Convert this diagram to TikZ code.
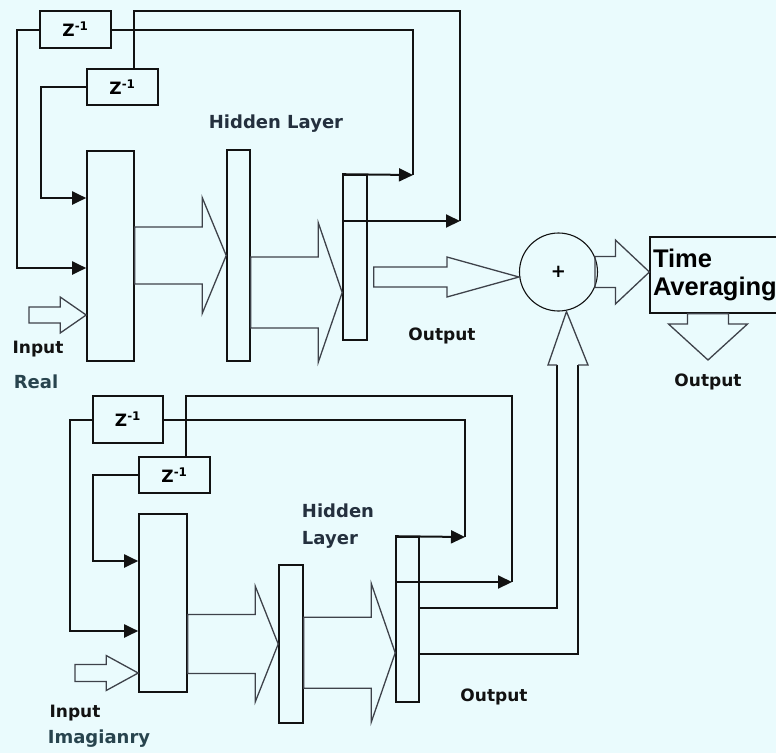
\documentclass[tikz,border=0pt]{standalone}
\usepackage{fontspec}
\setmainfont{DejaVu Sans}
\newfontfamily\arialfont{Liberation Sans}
\usetikzlibrary{arrows.meta,calc}
\definecolor{NNbg}{RGB}{234,251,253}
\definecolor{NNink}{RGB}{18,18,18}
\definecolor{NNslate}{RGB}{36,48,62}
\definecolor{NNteal}{RGB}{40,68,78}
\definecolor{NNgray}{RGB}{62,66,74}
\tikzset{
  blk/.style={draw=NNink,line width=1.6pt,inner sep=0pt},
  delay/.style={blk,font=\fontsize{17}{17}\selectfont\bfseries},
  sumnode/.style={circle,draw=NNink,line width=1.1pt,minimum size=78pt,inner sep=0pt,
                  font=\fontsize{18}{18}\selectfont\bfseries},
  fb/.style={draw=NNink,line width=2pt},
  fbarr/.style={fb,-{Triangle[length=14pt,width=13pt]}},
  fat/.style={draw=NNgray,line width=1.3pt,line join=miter},
  lbl/.style={font=\fontsize{17}{20}\selectfont\bfseries,text=NNink,inner sep=0pt},
  sublbl/.style={font=\fontsize{18}{20}\selectfont\bfseries,text=NNteal,inner sep=0pt},
  hlbl/.style={font=\fontsize{18}{27}\selectfont\bfseries,text=NNslate,inner sep=0pt,align=left},
}
\newcommand{\fatarrow}[5]{%
  \draw[fat] let \p1=#1, \p2=#2, \n1={veclen(\x2-\x1,\y2-\y1)},
    \n2={atan2(\y2-\y1,\x2-\x1)} in [shift={(\p1)},rotate=\n2]
    (0pt,#3pt) -- ({\n1-#5pt},#3pt) -- ({\n1-#5pt},#4pt) -- (\n1,0pt)
    -- ({\n1-#5pt},-#4pt) -- ({\n1-#5pt},-#3pt) -- (0pt,-#3pt) -- cycle;
}

\begin{document}
\begin{tikzpicture}[x=1pt,y=-1pt]
  \fill[NNbg] (0,0) rectangle (776,753);
  \useasboundingbox (0,0) rectangle (776,753);

  \node[delay,minimum width=71pt,minimum height=37pt] (z1) at (75.5,29.5) {Z\textsuperscript{-1}};
  \node[delay,minimum width=71pt,minimum height=36pt] (z2) at (122.5,87) {Z\textsuperscript{-1}};
  \node[blk,minimum width=47pt,minimum height=210pt] (in1) at (110.5,256) {};
  \node[blk,minimum width=23pt,minimum height=211pt] (hid1) at (238.5,255.5) {};
  \node[blk,minimum width=24pt,minimum height=165pt] (out1) at (355,257.5) {};
  \node[sumnode] (sum) at (558.5,272) {+};
  \node[blk,line width=1.2pt,minimum width=136pt,minimum height=76pt,align=left,
        text width=130pt,font=\arialfont\bfseries\fontsize{25.5}{28}\selectfont] (tavg) at (718,275) {Time\\Averaging};

  \node[delay,minimum width=70pt,minimum height=47pt] (z3) at (128,419.5) {Z\textsuperscript{-1}};
  \node[delay,minimum width=71pt,minimum height=36pt] (z4) at (174.5,475) {Z\textsuperscript{-1}};
  \node[blk,minimum width=48pt,minimum height=178pt] (in2) at (163,603) {};
  \node[blk,minimum width=24pt,minimum height=158pt] (hid2) at (291,644) {};
  \node[blk,minimum width=23pt,minimum height=165pt] (out2) at (407.5,619.5) {};

  \node[lbl] (inlbl1) at (38,349) {Input};
  \node[sublbl] (relbl) at (36,382) {Real};
  \node[hlbl] (hidlbl1) at (276,124) {Hidden Layer};
  \node[lbl] (outlbl1) at (442,336) {Output};
  \node[lbl] (outlbl3) at (708,382) {Output};
  \node[hlbl] (hidlbl2) at (338,526) {Hidden\\Layer};
  \node[lbl] (outlbl2) at (494,697) {Output};
  \node[lbl] (inlbl2) at (75,713) {Input};
  \node[sublbl] (imlbl) at (99,739) {Imagianry};

  \coordinate (a1) at (17,268);
  \coordinate (a2) at (41,198);
  \coordinate (b1) at (413,175);
  \coordinate (b2) at (460,221);
  \coordinate (t2) at (134,11);
  \draw[fbarr] (z1.west) -| (a1) -- (a1 -| in1.west);
  \draw[fbarr] (z2.west) -| (a2) -- (a2 -| in1.west);
  \draw[fbarr] (out1.north west) -- (b1);
  \draw[fb] (b1) |- (z1.east);
  \draw[fbarr] (b2 -| out1.west) -- (b2);
  \draw[fb] (b2) |- (t2) -- (t2 |- z2.north);

  \coordinate (c1) at (70,631);
  \coordinate (c2) at (93,561);
  \coordinate (d1) at (465,537);
  \coordinate (d2) at (512,582);
  \coordinate (t4) at (186,396);
  \draw[fbarr] (z3.west) -| (c1) -- (c1 -| in2.west);
  \draw[fbarr] (z4.west) -| (c2) -- (c2 -| in2.west);
  \draw[fbarr] (out2.north west) -- (d1);
  \draw[fb] (d1) |- (z3.east);
  \draw[fbarr] (d2 -| out2.west) -- (d2);
  \draw[fb] (d2) |- (t4) -- (t4 |- z4.north);

  \coordinate (inR) at (29,315);
  \coordinate (inI) at (75,673);
  \coordinate (p2) at ($(out1.south west)!.29!(out1.north west)$);
  \coordinate (p3) at ($(sum.west)+(0,5)$);
  \coordinate (p5) at (708,360);
  \fatarrow{(inR)}{(inR -| in1.west)}{8}{18}{26}
  \fatarrow{(in1.east |- hid1.west)}{(hid1.west)}{28.5}{58}{24}
  \fatarrow{(hid1.east |- p2)}{(p2)}{35.5}{70}{24}
  \fatarrow{($(out1.east |- p3)+(6,0)$)}{(p3)}{10}{20}{72}
  \fatarrow{($(sum.east)+(-3,0)$)}{(sum.east -| tavg.west)}{15.5}{32}{34}
  \fatarrow{(tavg.south -| p5)}{(p5)}{20.5}{39.5}{36}

  \fatarrow{(inI)}{(inI -| in2.west)}{8.5}{17.5}{32}
  \fatarrow{(in2.east |- hid2.west)}{(hid2.west)}{29.5}{58}{23}
  \coordinate (p4) at ($(out2.south west)!.3!(out2.north west)$);
  \fatarrow{(hid2.east |- p4)}{(p4)}{35.5}{69.5}{24}

  \coordinate (e1) at (557,608);
  \coordinate (e2) at (578,654);
  \coordinate (h1) at (548,365);
  \coordinate (h2) at (588,365);
  \coordinate (u) at ($(sum.south)+(8,0)$);
  \draw[fb] (e1 -| out2.east) -- (e1) -- (e1 |- h1);
  \draw[fb] (e2 -| out2.east) -- (e2) -- (e2 |- h2);
  \draw[fat] (e1 |- h1) -- (h1) -- (u) -- (h2) -- (e2 |- h2);
\end{tikzpicture}
\end{document}
